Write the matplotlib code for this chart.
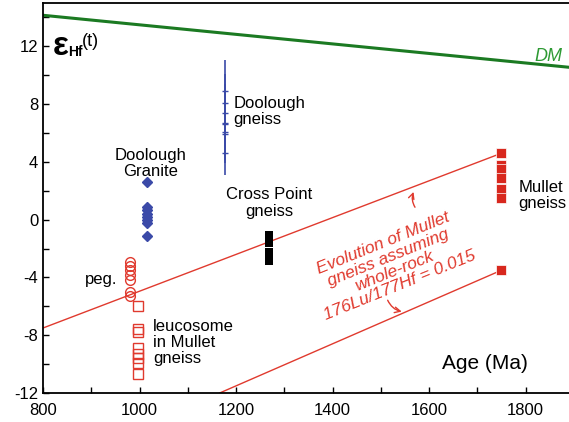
import matplotlib
matplotlib.use("Agg")
import matplotlib.pyplot as plt
from matplotlib.ticker import MultipleLocator

plt.rcParams['font.family'] = ['Liberation Sans', 'DejaVu Sans']
plt.rcParams['axes.unicode_minus'] = False

# depleted mantle line
dm_age = [800, 1890]
dm_eps = [14.15, 10.55]

# Mullet gneiss evolution lines (176Lu/177Hf = 0.015)
evo1_age = [800, 1750]
evo1_eps = [-7.5, 4.6]
evo2_age = [1166, 1750]
evo2_eps = [-12.0, -3.5]

# Mullet gneiss (filled red squares)
mullet_age = 1750
mullet_eps = [4.6, 3.8, 3.5, 2.9, 2.1, 1.5, -3.5]

# Doolough Granite (blue diamonds)
granite_age = 1015
granite_eps = [2.6, 0.9, 0.7, 0.4, 0.2, 0.0, -0.2, -1.1]

# Doolough gneiss (blue, with error bars)
dgneiss_age = 1177
dgneiss_eps = [8.9, 8.1, 7.4, 6.7, 6.6, 6.1, 5.9, 4.65]
dgneiss_err = [2.15, 2.0, 2.0, 2.0, 2.0, 2.0, 2.0, 1.55]

# Cross Point gneiss (black squares)
cross_age = 1268
cross_eps = [-1.05, -1.25, -1.45, -1.63, -2.25, -2.45, -2.65, -2.85]

# pegmatite (open red circles)
peg_age = 980
peg_eps = [-2.9, -3.2, -3.5, -3.8, -4.2, -5.0, -5.3]

# leucosome in Mullet gneiss (open red squares)
leuco_age = 996
leuco_eps = [-6.0, -7.6, -7.8, -8.9, -9.3, -9.6, -9.9, -10.7]

red = '#e03a2e'
blue = '#3b4aa8'

fig = plt.figure(figsize=(5.69, 4.22), dpi=100)
ax = fig.add_axes([0.0756, 0.0687, 0.9244, 0.9242])

ax.plot(dm_age, dm_eps, color='#1b7a22', lw=2.2)
ax.plot(evo1_age, evo1_eps, color=red, lw=1)
ax.plot(evo2_age, evo2_eps, color=red, lw=1)

ax.plot([mullet_age] * len(mullet_eps), mullet_eps, 's', color='#d8281e',
        ms=6.5, mec='white', mew=0.5)
ax.plot([granite_age] * len(granite_eps), granite_eps, 'D', color=blue, ms=5)
ax.errorbar([dgneiss_age] * len(dgneiss_eps), dgneiss_eps, yerr=dgneiss_err,
            fmt='_', color=blue, ms=5, elinewidth=1.2, capsize=0)
ax.plot([cross_age] * len(cross_eps), cross_eps, 's', color='black', ms=6, mew=0)
ax.plot([peg_age] * len(peg_eps), peg_eps, 'o', mfc='none', mec=red, ms=7, mew=1)
ax.plot([leuco_age] * len(leuco_eps), leuco_eps, 's', mfc='none', mec=red, ms=6.5, mew=1)

ax.set_xlim(800, 1890)
ax.set_ylim(-12, 15)
ax.set_xticks([800, 1000, 1200, 1400, 1600, 1800])
ax.set_yticks([-12, -8, -4, 0, 4, 8, 12])
ax.xaxis.set_minor_locator(MultipleLocator(100))
ax.yaxis.set_minor_locator(MultipleLocator(2))
ax.tick_params(which='both', direction='in', length=4, width=1, labelsize=12,
               top=False, right=False)
ax.tick_params(axis='x', pad=7)
ax.spines['right'].set_visible(False)
for s in ['left', 'bottom', 'top']:
    ax.spines[s].set_linewidth(1.3)

# labels
ax.text(821, 12.0, '\u03b5', fontsize=24, fontweight='bold', va='center', ha='left')
ax.text(851, 11.6, 'Hf', fontsize=10, fontweight='bold', va='center', ha='left')
ax.text(880, 12.35, '(t)', fontsize=13, va='center', ha='left')
ax.text(1848, 11.3, 'DM', color='#2e9a34', fontsize=13, style='italic', ha='center', va='center')
ax.text(1195, 7.5, 'Doolough\ngneiss', fontsize=12, ha='left', va='center', linespacing=1.1)
ax.text(1022, 3.9, 'Doolough\nGranite', fontsize=12, ha='center', va='center', linespacing=1.1)
ax.text(1268, 1.15, 'Cross Point\ngneiss', fontsize=12, ha='center', va='center', linespacing=1.1)
ax.text(1785, 1.7, 'Mullet\ngneiss', fontsize=12, ha='left', va='center', linespacing=1.1)
ax.text(953, -4.15, 'peg.', fontsize=12, ha='right', va='center')
ax.text(1028, -8.5, 'leucosome\nin Mullet\ngneiss', fontsize=12, ha='left', va='center',
        linespacing=1.1)
ax.text(1715, -9.95, 'Age (Ma)', fontsize=15, ha='center', va='center')
ax.text(1522, -3.1, 'Evolution of Mullet\ngneiss assuming\nwhole-rock\n176Lu/177Hf = 0.015',
        color=red, fontsize=12.5, style='italic', ha='center', va='center', rotation=22,
        rotation_mode='anchor', linespacing=1.0)

ax.annotate('', xy=(1570, 2.1), xytext=(1574, 0.7),
            arrowprops=dict(arrowstyle='->', color=red, lw=1,
                            connectionstyle='arc3,rad=-0.3'))
ax.annotate('', xy=(1549, -6.4), xytext=(1512, -5.4),
            arrowprops=dict(arrowstyle='->', color=red, lw=1,
                            connectionstyle='arc3,rad=0.3'))

fig.savefig('out.png', dpi=100)
